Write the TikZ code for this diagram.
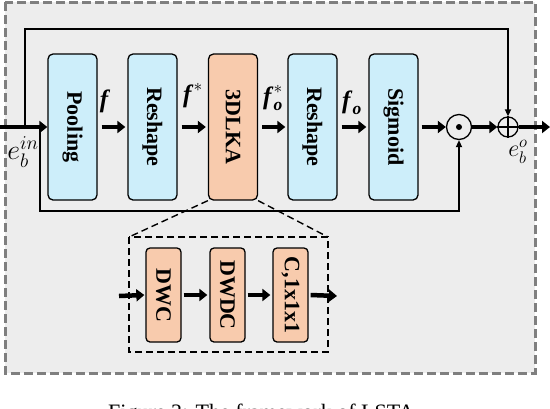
\RequirePackage{fix-cm}
\documentclass[tikz,border=0pt]{standalone}
\usepackage{amsmath}
\usepackage{bm}
\usepackage{fontspec}
\setmainfont{Liberation Serif}
\usetikzlibrary{arrows.meta,calc}
\definecolor{boxblue}{HTML}{CDEEFA}
\definecolor{boxorange}{HTML}{F8CBAD}
\definecolor{bggray}{HTML}{EDEDED}
\definecolor{dashgray}{HTML}{7F7F7F}
\newcommand{\bif}{\textbf{\textit{f}}}
\newcommand{\bio}{\textbf{\textit{o}}}
\tikzset{
  blk/.style={draw=black, line width=1.3pt, rounded corners=5pt, minimum width=49pt, minimum height=146pt, inner sep=0pt},
  bluebox/.style={blk, fill=boxblue},
  orangebox/.style={blk, fill=boxorange},
  subbox/.style={draw=black, line width=1.3pt, rounded corners=4pt, fill=boxorange, minimum width=35pt, minimum height=94pt, inner sep=0pt},
  vtext/.style={font=\fontsize{22}{26}\selectfont\bfseries, rotate=-90},
  svtext/.style={font=\fontsize{22}{26}\selectfont\bfseries, rotate=-90},
  thick arrow/.style={line width=4.5pt, -{Triangle[length=8pt,width=12pt]}},
  thin line/.style={line width=1.7pt},
  lbl/.style={font=\fontsize{25}{30}\selectfont, inner sep=0pt},
}
\begin{document}
\begin{tikzpicture}[x=1pt,y=-1pt]
\useasboundingbox (0,0) rectangle (550,408);
% outer box
\draw[dashgray, fill=bggray, line width=3pt, dash pattern=on 9pt off 4pt] (5,2) rectangle (535,373);
% main blocks
\node[bluebox] (pool) at (72.5,127) {};
\node[vtext] at (pool.center) {Pooling};
\node[bluebox] (resh1) at (152.5,127) {};
\node[vtext] at (resh1.center) {Reshape};
\node[orangebox] (lka) at (233,127) {};
\node[vtext] at (lka.center) {3DLKA};
\node[bluebox] (resh2) at (312.5,127) {};
\node[vtext] at (resh2.center) {Reshape};
\node[bluebox] (sig) at (393.5,127) {};
\node[vtext] at (sig.center) {Sigmoid};
% operators
\node[draw, circle, line width=1.3pt, minimum size=25pt, inner sep=0pt] (dot) at (459,127) {};
\fill (dot.center) circle (3pt);
\node[draw, circle, line width=1.3pt, minimum size=20pt, inner sep=0pt] (plus) at (508,127) {};
\draw[line width=1.3pt] (plus.north) -- (plus.south) (plus.west) -- (plus.east);
% coordinates
\coordinate (in) at (0,127);
\coordinate (out) at (550,127);
\coordinate (tl) at (25,127);
\coordinate (tlu) at (25,29);
\coordinate (tru) at (508,29);
\coordinate (bl) at (40,127);
\coordinate (bld) at (40,211);
\coordinate (brd) at (459,211);
% loops
\draw[thin line, -{Triangle[length=7pt,width=6pt]}] (tl) -- (tlu) -- (tru) -- (plus.north);
\draw[thin line, -{Triangle[length=7pt,width=6pt]}] (bl) -- (bld) -- (brd) -- (dot.south);
% thick arrows
\draw[thick arrow] (in) -- (pool.west);
\draw[thick arrow] ($(pool.east)+(4,0)$) -- ($(resh1.west)+(-2,0)$);
\draw[thick arrow] ($(resh1.east)+(4,0)$) -- ($(lka.west)+(-2,0)$);
\draw[thick arrow] ($(lka.east)+(4,0)$) -- ($(resh2.west)+(-2,0)$);
\draw[thick arrow] ($(resh2.east)+(4,0)$) -- ($(sig.west)+(-2,0)$);
\draw[thick arrow] ($(sig.east)+(3,0)$) -- (dot.west);
\draw[thick arrow] (dot.east) -- (plus.west);
\draw[thick arrow] (plus.east) -- (out);
% labels
\node[lbl] (lf) at (105,101) {\bif};
\node[lbl] (lfs) at (193,96) {$\bif^{*}$};
\node[lbl] (lfos) at (273,98) {$\bif_{\bio}^{*}$};
\node[lbl] (lfo) at (352,103) {$\bif_{\bio}$};
\node[lbl, font=\fontsize{28}{32}\selectfont] (lein) at (23,152) {$e_b^{in}$};
\node[lbl, font=\fontsize{24}{28}\selectfont] (leo) at (518,152) {$e_b^{o}$};
% sub box
\coordinate (sbnw) at (129,237);
\coordinate (sbne) at (328,237);
\draw[line width=1.4pt, dash pattern=on 7pt off 4pt] (sbnw) rectangle (328,352);
\draw[line width=1.4pt, dash pattern=on 7pt off 4pt] (lka.south west) -- (sbnw);
\draw[line width=1.4pt, dash pattern=on 7pt off 4pt] (lka.south east) -- (sbne);
\node[subbox] (dwc) at (163.5,295) {};
\node[svtext] at (dwc.center) {DWC};
\node[subbox] (dwdc) at (227.5,295) {};
\node[svtext] at (dwdc.center) {DWDC};
\node[subbox] (conv) at (290.5,295) {};
\node[svtext] at (conv.center) {C,1x1x1};
\coordinate (sin) at (119,296);
\coordinate (sout) at (337,296);
\draw[thick arrow] (sin) -- ($(dwc.west)+(-1,0)$);
\draw[thick arrow] ($(dwc.east)+(2,0)$) -- ($(dwdc.west)+(-2,0)$);
\draw[thick arrow] ($(dwdc.east)+(2,0)$) -- ($(conv.west)+(-2,0)$);
\draw[thick arrow] ($(conv.east)+(2,0)$) -- (sout);
% caption (cut by page edge)
\node[anchor=base west, font=\fontsize{22}{26}\selectfont, inner sep=0pt] (cap) at (108,419) {Figure 3: The framework of LSTA};
\end{tikzpicture}
\end{document}
